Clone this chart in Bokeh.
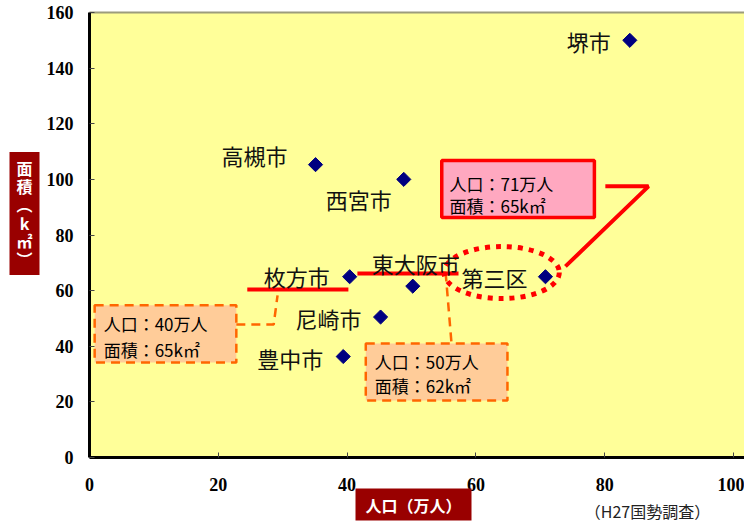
from bokeh.plotting import figure
from bokeh.models import (Range1d, FixedTicker, Label, BoxAnnotation,
                          ColumnDataSource)
from bokeh.core.properties import value
from bokeh.embed import file_html
from bokeh.resources import INLINE
import numpy as np

# ---- data ----
cities = ["堺市", "高槻市", "西宮市", "枚方市", "東大阪市", "尼崎市", "豊中市", "第三区"]
population = [83.9, 35.1, 48.8, 40.4, 50.2, 45.2, 39.4, 70.8]   # 万人
area = [150.0, 105.3, 100.0, 65.0, 61.6, 50.5, 36.3, 65.0]       # km2

x_ticks = [0, 20, 40, 60, 80, 100]
y_ticks = [0, 20, 40, 60, 80, 100, 120, 140, 160]

callout_names = ["枚方市", "東大阪市", "第三区"]
callout_pop = [40, 50, 71]
callout_area = [65, 62, 65]

x_title = "人口（万人）"
y_title_stacked = "面\n積\n︵\nk\n㎡\n︶"   # 面積（km²） written vertically
source_note = "（H27国勢調査）"

# ---- layout (label offsets in screen px, +dy = down) ----
label_dx = [-41, -61, -45, -53, 3, -52, -53, -51]
label_dy = [1, -10, 20, -1, -23, 1, 1, 0]

FONT_JP = "Noto Sans CJK JP"
W, H = 744, 522
X0, X1, Y0, Y1 = 89, 733, 457, 12          # pixel positions of x=0/100, y=0/160
sx = (X1 - X0) / 100.0
sy = (Y0 - Y1) / 160.0

p = figure(width=W, height=H, output_backend="svg", toolbar_location=None,
           x_range=Range1d(-X0 / sx, (W - X0) / sx),
           y_range=Range1d(-(H - Y0) / sy, Y0 / sy),
           min_border=0)
p.background_fill_color = "white"
p.border_fill_color = "white"
p.outline_line_color = None
p.grid.visible = False

# plot area
p.add_layout(BoxAnnotation(left=0, bottom=0, top=160, fill_color="#FFFF99",
                           fill_alpha=1, line_color=None, level="underlay"))
p.line([0, (W - X0) / sx], [160, 160], line_color="#9C9C7C", line_width=2)

for ax, ticks, bnds, standoff in ((p.xaxis, x_ticks, (0, (W - X0) / sx), 20),
                                  (p.yaxis, y_ticks, (0, 160), 16)):
    ax.fixed_location = 0
    ax.bounds = bnds
    ax.ticker = FixedTicker(ticks=ticks)
    ax.axis_line_width = 3
    ax.axis_line_color = "black"
    ax.major_tick_in = 5
    ax.major_tick_out = 0
    ax.major_tick_line_color = "#444444"
    ax.minor_tick_line_color = None
    ax.major_label_text_font = "Liberation Serif"
    ax.major_label_text_font_style = "bold"
    ax.major_label_text_font_size = "18px"
    ax.major_label_text_color = "black"
    ax.major_label_standoff = standoff

# ---- callout boxes ----
box_specs = [
    dict(left=0.8, right=22.8, top=54.7, bottom=34.2, fill_color="#FFCC99",
         line_color="#FF6600", line_width=2.5, line_dash="9 6"),
    dict(left=42.9, right=64.9, top=41.0, bottom=20.5, fill_color="#FFCC99",
         line_color="#FF6600", line_width=2.5, line_dash="9 6"),
    dict(left=54.7, right=78.4, top=106.8, bottom=86.3, fill_color="#FFA8C0",
         line_color="#FF0000", line_width=3.5, line_dash="solid"),
]
for spec in box_specs:
    p.add_layout(BoxAnnotation(fill_alpha=1, line_alpha=1, level="underlay", **spec))

text_pos = [(2.2, 48.2, 38.8), (44.3, 34.5, 25.9), (55.9, 98.6, 90.6)]
for (tx, ty1, ty2), pop_v, area_v in zip(text_pos, callout_pop, callout_area):
    p.add_layout(Label(x=tx, y=ty1, text=f"人口：{pop_v}万人", text_font=FONT_JP,
                       text_font_size="17px", text_color="black",
                       text_align="left", text_baseline="middle"))
    p.add_layout(Label(x=tx, y=ty2, text=f"面積：{area_v}k㎡",
                       text_font=FONT_JP, text_font_size="17px", text_color="black",
                       text_align="left", text_baseline="middle"))

# connectors
p.line([22.8, 28.6, 29.2], [47.8, 47.8, 58.3], line_color="#FF6600", line_width=2.5,
       line_dash="9 6")
p.line([55.3, 56.2], [66.5, 41.4], line_color="#FF6600", line_width=2.5, line_dash="9 6")

# red underlines
p.line([24.5, 40.2], [60.4, 60.4], line_color="#FF0000", line_width=4)
p.line([41.6, 57.3], [66.2, 66.2], line_color="#FF0000", line_width=4)

# dotted ellipse around 第三区
p.ellipse(x=[64.0], y=[66.5], width=[17.9], height=[18.7], fill_alpha=0,
          line_color="#FF0000", line_width=5, line_dash="5 6")

# red pointer to pink callout
p.line([80.1, 86.8, 73.9], [97.5, 97.5, 68.7], line_color="#FF0000", line_width=4)

# ---- points ----
src = ColumnDataSource(dict(x=population, y=area, name=cities,
                            dx=label_dx, dy=label_dy))
p.scatter("x", "y", source=src, marker="square", angle=np.pi / 4, size=10,
          fill_color="#000080", line_color="#000080")
p.text("x", "y", text="name", source=src, x_offset="dx", y_offset="dy",
       text_font=value(FONT_JP), text_font_size="22px", text_color="#111111",
       text_align="center", text_baseline="middle")

# ---- axis titles ----
p.add_layout(Label(x=(413 - X0) / sx, y=-(504 - Y0) / sy, text=x_title,
                   text_font=FONT_JP,
                   text_font_size="16px", text_font_style="bold", text_color="white",
                   text_align="center", text_baseline="middle",
                   background_fill_color="#990000", background_fill_alpha=1,
                   padding=dict(left=10, right=10, top=4, bottom=4)))
p.add_layout(Label(x=(24 - X0) / sx, y=(Y0 - 213) / sy, text=y_title_stacked,
                   text_font=FONT_JP,
                   text_font_size="16px", text_font_style="bold", text_color="white",
                   text_align="center", text_baseline="middle", text_line_height=0.76,
                   background_fill_color="#990000", background_fill_alpha=1,
                   padding=dict(left=7, right=7, top=4, bottom=4)))
p.add_layout(Label(x=(647 - X0) / sx, y=-(510 - Y0) / sy, text=source_note,
                   text_font=FONT_JP, text_font_size="16px", text_color="#222222",
                   text_align="center", text_baseline="middle"))

open("out.html", "w").write(file_html(p, INLINE))
